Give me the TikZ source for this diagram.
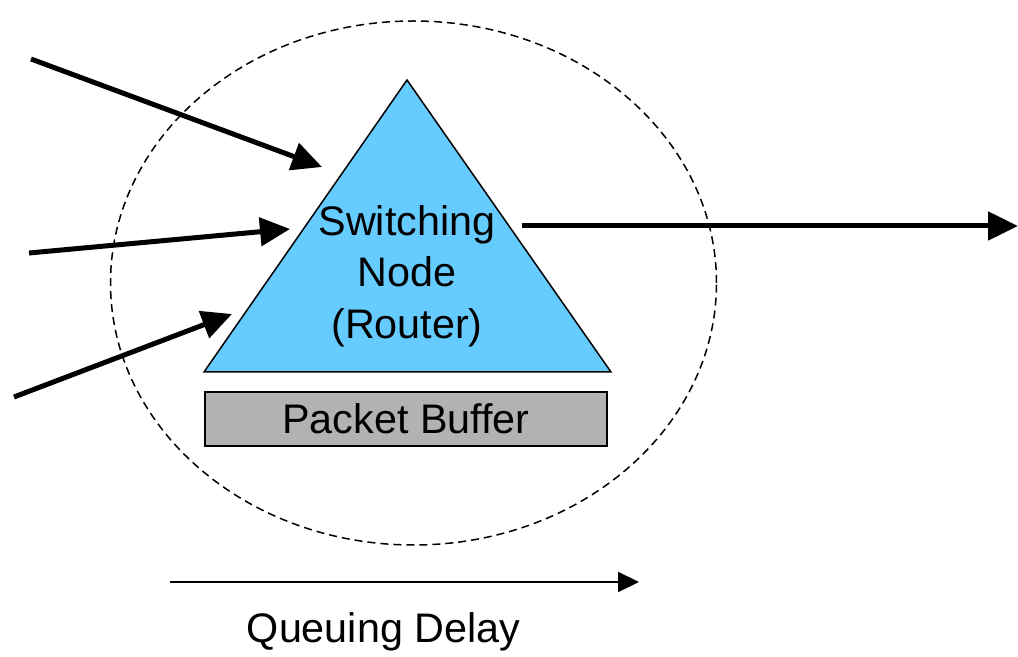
\documentclass[tikz,border=0pt]{standalone}
\usepackage{fontspec}
\setmainfont{Liberation Sans}
\usetikzlibrary{positioning, calc, arrows.meta}
\definecolor{routerblue}{HTML}{66CCFF}
\definecolor{buffergray}{HTML}{B2B2B2}
\tikzset{
  bigtext/.style={font=\fontsize{20.65}{25.75}\selectfont},
  linkarrow/.style={line width=2.5pt,-{Triangle[length=15pt,width=14pt]}},
  delayarrow/.style={line width=1pt,-{Triangle[length=10.5pt,width=10pt]}}
}

\begin{document}
\begin{tikzpicture}[x=0.5pt,y=-0.5pt]
\useasboundingbox (0,0) rectangle (1018,657);
% switching node
\draw[line width=0.75pt,fill=routerblue] (407,80) coordinate(t1) -- (611,372) coordinate(t2)
      -- (204,372) coordinate(t3) -- cycle;
\node[bigtext,align=center,inner sep=0pt] (router) at (407,276) {Switching\\Node\\(Router)};
\node[draw,fill=buffergray,line width=0.75pt,minimum width=201pt,minimum height=27pt,
      inner sep=0pt,bigtext] (buffer) at (406,419) {Packet Buffer};
% dashed boundary
\draw[dash pattern=on 4pt off 2.5pt,line width=0.75pt] (413.5,283) ellipse [x radius=151.5pt, y radius=131pt];

% incoming links
\draw 	(31,59) coordinate(in1)  (29,253) coordinate(in2)  (14,397) coordinate(in3)
		(322,167) coordinate(e1)  (290,229) coordinate(e2)  (232,314) coordinate(e3);
\path[linkarrow]
    (in1) edge (e1)
    (in2) edge (e2)
    (in3) edge (e3);
% outgoing link
\draw 	(522,226) coordinate(out0)  (1018,226) coordinate(out1);
\draw[linkarrow] (out0) -- (out1);

% queuing delay
\draw 	(170,582) coordinate(d0)  (639,582) coordinate(d1);
\draw[delayarrow] (d0) -- (d1);
\node[bigtext,anchor=base] (delay) at (383.5,642) {Queuing Delay};
\end{tikzpicture}
\end{document}
